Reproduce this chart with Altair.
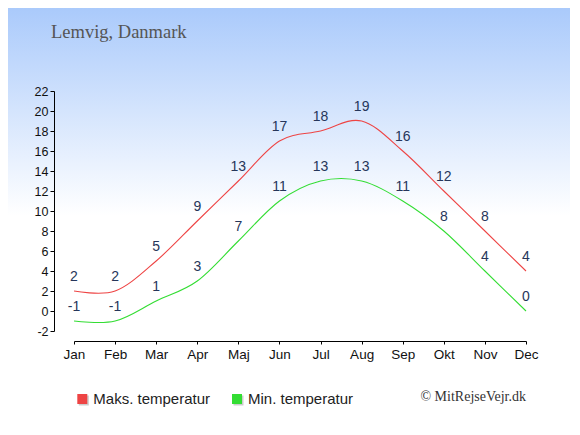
import altair as alt
import pandas as pd

months = ["Jan", "Feb", "Mar", "Apr", "Maj", "Jun", "Jul", "Aug", "Sep", "Okt", "Nov", "Dec"]
max_temp = [2, 2, 5, 9, 13, 17, 18, 19, 16, 12, 8, 4]
min_temp = [-1, -1, 1, 3, 7, 11, 13, 13, 11, 8, 4, 0]
series_names = ["Maks. temperatur", "Min. temperatur"]
series_colors = ["#ee4444", "#33dd33"]
y_ticks = list(range(-2, 23, 2))
title_text = "Lemvig, Danmark"
credit_text = "© MitRejseVejr.dk"

rows = []
for m, hi, lo in zip(months, max_temp, min_temp):
    rows.append({"month": m, "series": series_names[0], "temp": hi, "label": str(hi)})
    rows.append({"month": m, "series": series_names[1], "temp": lo, "label": str(lo)})
df = pd.DataFrame(rows)

W, H = 452, 240
PAD_L, PAD_T = 66, 83
TOTAL_W, TOTAL_H = 562, 415
PAD_R = TOTAL_W - PAD_L - W
PAD_B = TOTAL_H - PAD_T - H
OX, OY = 74, 91  # page offset of the plot origin

SANS = "Liberation Sans"
SERIF = "Liberation Serif"

x_enc = alt.X(
    "month:N", sort=months,
    scale=alt.Scale(type="point", padding=0),
    axis=alt.Axis(title=None, labelAngle=0, offset=10, tickSize=3, labelPadding=3,
                  labelFontSize=13.5, labelFont=SANS, labelColor="#111111",
                  domainColor="#000000", tickColor="#000000", grid=False, zindex=2),
)
y_enc = alt.Y(
    "temp:Q",
    scale=alt.Scale(domain=[-2, 22], nice=False, zero=False),
    axis=alt.Axis(title=None, values=y_ticks, offset=20, tickSize=4, labelPadding=2,
                  labelFontSize=12.5, labelFont=SANS, labelColor="#111111",
                  labelExpr="toString(datum.value)",
                  domainColor="#000000", tickColor="#000000", grid=False, zindex=2),
)
color_scale = alt.Scale(domain=series_names, range=series_colors)

one = pd.DataFrame({"a": [0]})

bg = alt.Chart(one).mark_rect(
    clip=False,
    color=alt.Gradient(
        gradient="linear",
        stops=[alt.GradientStop(offset=0, color="#aacafb"),
               alt.GradientStop(offset=0.5, color="#ffffff"),
               alt.GradientStop(offset=1, color="#ffffff")],
        x1=0, x2=0, y1=0, y2=1,
    ),
).encode(
    x=alt.value(-PAD_L), x2=alt.value(TOTAL_W - PAD_L),
    y=alt.value(-PAD_T), y2=alt.value(TOTAL_H - PAD_T),
)

lines = alt.Chart(df).mark_line(interpolate="cardinal", strokeWidth=1.1).encode(
    x=x_enc, y=y_enc,
    stroke=alt.Stroke("series:N", scale=color_scale, legend=None),
)

labels = alt.Chart(df).mark_text(dy=-14, fontSize=14, font=SANS, color="#26365a", baseline="middle").encode(
    x=x_enc, y=y_enc, text="label:N"
)

# legend drawn as decoration (one entry per series)
legend_layers = []
legend_square_x = [82.3, 237.0]  # page x of square centres
for name, col, sx in zip(series_names, series_colors, legend_square_x):
    ldf = pd.DataFrame({"name": [name]})
    shadow = alt.Chart(ldf).mark_square(size=100, filled=True, color="#cccccc", opacity=1, clip=False).encode(
        x=alt.value(sx - OX + 1.5), y=alt.value(399 - OY + 1.5)
    )
    sq = alt.Chart(ldf).mark_square(size=100, filled=True, color=col, opacity=1, clip=False).encode(
        x=alt.value(sx - OX), y=alt.value(399 - OY)
    )
    txt = alt.Chart(ldf).mark_text(align="left", baseline="middle", font=SANS, fontSize=15,
                                   color="#222222", clip=False).encode(
        x=alt.value(sx - OX + 11), y=alt.value(399 - OY), text="name:N"
    )
    legend_layers += [shadow, sq, txt]

title = alt.Chart(pd.DataFrame({"t": [title_text]})).mark_text(
    align="left", baseline="alphabetic", font=SERIF, fontSize=18.5, color="#555555", clip=False
).encode(x=alt.value(51 - OX), y=alt.value(38 - OY), text="t:N")

credit = alt.Chart(pd.DataFrame({"t": [credit_text]})).mark_text(
    align="right", baseline="middle", font=SERIF, fontSize=14, color="#333333", clip=False
).encode(x=alt.value(526 - OX), y=alt.value(397 - OY), text="t:N")

chart = alt.layer(bg, lines, labels, *legend_layers, title, credit).properties(
    width=W, height=H,
    padding={"left": PAD_L, "top": PAD_T, "right": PAD_R, "bottom": PAD_B},
    autosize=alt.AutoSizeParams(type="none"),
).configure_view(stroke=None)

chart.save("out.html", embed_options={"renderer": "svg", "actions": False})
